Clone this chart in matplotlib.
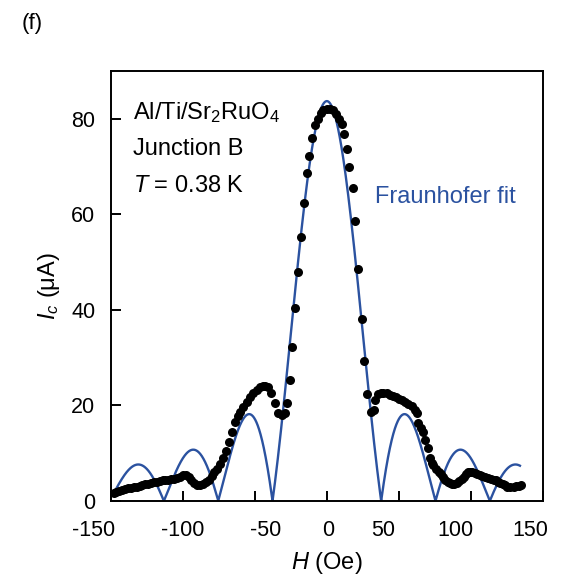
import numpy as np
import matplotlib
matplotlib.use("Agg")
import matplotlib.pyplot as plt
import matplotlib.transforms as mtransforms

plt.rcParams['font.family'] = ['Liberation Sans', 'DejaVu Sans']
plt.rcParams['mathtext.fontset'] = 'custom'
plt.rcParams['mathtext.rm'] = 'Liberation Sans'
plt.rcParams['mathtext.it'] = 'Liberation Sans:italic'
plt.rcParams['mathtext.default'] = 'regular'
plt.rcParams['axes.unicode_minus'] = False

field_oe = [-148, -146, -144, -142, -140, -138, -136, -134, -132, -130, -128, -126,
            -124, -122, -120, -118, -116, -114, -112, -110, -108, -106, -104, -102,
            -100, -98, -96, -94, -92, -90, -88, -86, -84, -82, -80, -78, -76, -74,
            -72, -70, -68, -66, -63.7, -62, -60.2, -58, -55.6, -53, -51, -48.6,
            -46.5, -44.5, -42.8, -40.5, -38.5, -36, -33.6, -31.3, -29.0, -27.8, -25.5,
            -23.9, -22.0, -19.7, -17.8, -15.8, -13.9, -12.1, -10.0, -8.1, -5.8, -4.2,
            -2.4, 0, 2.3, 4.6, 6.5, 8.1, 10.4, 12.2, 13.9, 15.7, 18.0, 19.7, 21.9,
            24.3, 25.8, 28.2, 30.6, 32.4, 33.5, 35.8, 37.5, 39.3, 41.5, 44, 46, 48,
            50, 52, 54.4, 56.5, 59, 61, 62.5, 63.6, 65, 66.7, 68.3, 69.9, 71.7, 73,
            74, 76, 77.5, 79, 80.5, 82.2, 84, 85.5, 86.8, 88.5, 90.3, 92, 93.5, 94.9,
            96.5, 98, 99.5, 101, 102.5, 104.2, 106, 108, 109.9, 112, 114, 115.7,
            117.5, 119, 120.4, 122, 123.5, 125, 127, 129.6, 131.5, 133, 134.5]
ic_ua = [1.6, 1.9, 2.1, 2.3, 2.5, 2.7, 2.8, 2.9, 3.0, 3.1, 3.3, 3.5,
         3.6, 3.8, 3.9, 4.0, 4.2, 4.3, 4.4, 4.5, 4.6, 4.7, 4.9, 5.1,
         5.4, 5.5, 5.1, 4.4, 3.8, 3.4, 3.3, 3.5, 3.9, 4.5, 5.2, 6.0, 6.8, 7.8,
         9.0, 10.5, 12.3, 14.4, 16.6, 17.7, 18.7, 19.7, 20.8, 21.8, 22.6, 23.3,
         23.8, 24.1, 24.1, 23.8, 22.6, 20.6, 18.4, 18.0, 18.5, 20.5, 25.4,
         32.3, 40.4, 47.9, 55.3, 62.4, 68.7, 72.3, 75.9, 78.8, 80.0, 81.3,
         81.8, 82.1, 82.0, 81.8, 81.1, 80.0, 79.0, 76.9, 73.7, 70.0, 65.6, 58.6, 48.6,
         38.1, 29.2, 22.4, 18.7, 19.1, 21.2, 22.4, 22.7, 22.7, 22.6, 22.2, 21.9, 21.7,
         21.4, 21.1, 20.8, 20.4, 19.8, 19.0, 18.4, 16.4, 15.3, 14.5, 12.8, 11.0, 8.9, 8.0,
         7.5, 6.7, 6.1, 5.6, 5.1, 4.5, 4.0, 3.8, 3.6, 3.5, 3.7, 4.2, 4.7, 5.1,
         5.6, 6.0, 6.1, 6.0, 5.8, 5.7, 5.5, 5.3, 5.1, 4.9, 4.7, 4.5,
         4.3, 4.0, 3.8, 3.5, 3.3, 3.0, 3.0, 3.0, 3.1, 3.2, 3.4]

x_ticks = [-150, -100, -50, 0, 50, 100, 150]
y_ticks = [0, 20, 40, 60, 80]
# the x labels in the original sit a little off their ticks (pixels)
x_label_shift = [-16.7, 0, 10.8, 1.3, -15.3, -15.7, -13]

# Fraunhofer fit parameters
ic0 = 83.7       # uA
period = 37.7    # Oe, spacing of the nodes
fit_range = (-148, 134)

blue = '#2b52a0'

fig = plt.figure(figsize=(5.61, 5.77), dpi=100)
ax = fig.add_axes([110.7 / 561, 1 - 501 / 577, (543 - 110.7) / 561, (501 - 71) / 577])

h = np.linspace(fit_range[0], fit_range[1], 2000)
fit = ic0 * np.abs(np.sinc(h / period))
ax.plot(h, fit, color=blue, lw=1.7, zorder=2)
ax.plot(field_oe, ic_ua, 'o', color='black', ms=6.5, mew=0, zorder=3)

ax.set_xlim(-150, 150)
ax.set_ylim(0, 90)
ax.set_xticks(x_ticks)
ax.set_yticks(y_ticks)
ax.tick_params(direction='in', length=7, width=1.4, labelsize=15.5)
ax.tick_params(axis='x', pad=14)
ax.tick_params(axis='y', pad=11)
ax.tick_params(top=False, right=False)
for s in ax.spines.values():
    s.set_linewidth(1.4)

for lab, dx in zip(ax.get_xticklabels(), x_label_shift):
    off = mtransforms.ScaledTranslation(dx / 100, 0, fig.dpi_scale_trans)
    lab.set_transform(lab.get_transform() + off)

ax.set_xlabel('$\\mathit{H}$ (Oe)', fontsize=17, labelpad=6)
ax.set_ylabel('$\\mathit{I_c}$ (μA)', fontsize=17, labelpad=7)

fs = 17
fig.text(133 / 561, 1 - 119 / 577, 'Al/Ti/Sr$_2$RuO$_4$', fontsize=fs, va='baseline')
fig.text(133 / 561, 1 - 155 / 577, 'Junction B', fontsize=fs, va='baseline')
fig.text(133 / 561, 1 - 192 / 577, '$\\mathit{T}$ = 0.38 K', fontsize=fs, va='baseline')
fig.text(375 / 561, 1 - 203 / 577, 'Fraunhofer fit', fontsize=fs, color=blue, va='baseline')
fig.text(22 / 561, 1 - 29 / 577, '(f)', fontsize=16, va='baseline')

fig.savefig('out.png', dpi=100)
